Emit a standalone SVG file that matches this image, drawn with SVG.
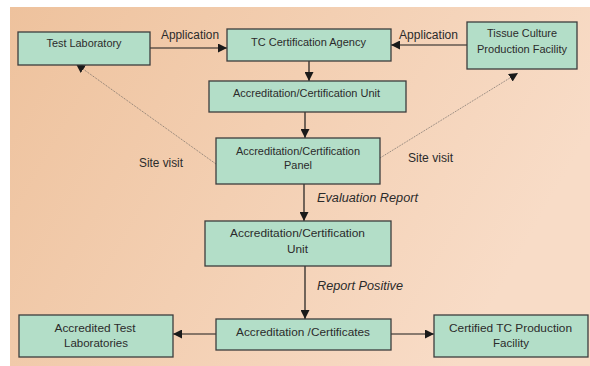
<svg xmlns="http://www.w3.org/2000/svg" width="590" height="366" viewBox="0 0 590 366">
  <defs>
    <linearGradient id="bg" x1="0" y1="0" x2="1" y2="0.35">
      <stop offset="0" stop-color="#eec29d"/>
      <stop offset="1" stop-color="#f8dcc7"/>
    </linearGradient>
    <marker id="ah" viewBox="0 0 10 10" refX="10" refY="5" markerWidth="9" markerHeight="9" markerUnits="userSpaceOnUse" orient="auto">
      <path d="M0,0 L10,5 L0,10 z" fill="#1a1a1a"/>
    </marker>
    <marker id="ahs" viewBox="0 0 10 10" refX="10" refY="5" markerWidth="9" markerHeight="9" markerUnits="userSpaceOnUse" orient="auto">
      <path d="M0,0 L10,5 L0,10 z" fill="#1a1a1a"/>
    </marker>
  </defs>
  <style>
    .box { fill: #b3dec8; stroke: #3d3d3d; stroke-width: 1.3; }
    .t { font-family: "Liberation Sans", Arial, sans-serif; font-size: 11.5px; fill: #2b2b2b; text-anchor: middle; }
    .lbl { font-family: "Liberation Sans", Arial, sans-serif; font-size: 12px; fill: #2b2b2b; text-anchor: middle; }
    .it { font-style: italic; }
    .ln { stroke: #1a1a1a; stroke-width: 1.2; fill: none; marker-end: url(#ah); }
    .dot { stroke: #555; stroke-width: 0.7; stroke-dasharray: 1 1; fill: none; marker-end: url(#ahs); }
  </style>

  <rect x="0" y="0" width="590" height="366" fill="#ffffff"/>
  <rect x="10" y="7" width="580" height="359" fill="url(#bg)"/>

  <g id="connectors">
    <line class="ln" x1="150" y1="48" x2="227" y2="48"/>
    <line class="ln" x1="467" y1="45" x2="391" y2="45"/>
    <line class="ln" x1="309" y1="61" x2="309" y2="81"/>
    <line class="ln" x1="305" y1="112" x2="305" y2="138"/>
    <line class="ln" x1="304" y1="184" x2="304" y2="221"/>
    <line class="ln" x1="305" y1="266" x2="305" y2="319"/>
    <line class="ln" x1="216" y1="334" x2="173" y2="334"/>
    <line class="ln" x1="391" y1="334" x2="434" y2="334"/>
    <line class="dot" x1="216" y1="164" x2="76" y2="64"/>
    <line class="dot" x1="380" y1="158" x2="518" y2="73"/>
    <text class="lbl" x="190" y="39" textLength="58" lengthAdjust="spacingAndGlyphs">Application</text>
    <text class="lbl" x="428.5" y="39" textLength="59" lengthAdjust="spacingAndGlyphs">Application</text>
    <text class="lbl" x="161" y="167" textLength="44" lengthAdjust="spacingAndGlyphs">Site visit</text>
    <text class="lbl" x="430.5" y="162" textLength="45" lengthAdjust="spacingAndGlyphs">Site visit</text>
    <text class="lbl it" x="367.5" y="202" textLength="101" lengthAdjust="spacingAndGlyphs">Evaluation Report</text>
    <text class="lbl it" x="360" y="290" textLength="86" lengthAdjust="spacingAndGlyphs">Report Positive</text>
  </g>

  <g id="test-laboratory">
    <rect class="box" x="18" y="32" width="132" height="33"/>
    <text class="t" x="84" y="47" textLength="75" lengthAdjust="spacingAndGlyphs">Test Laboratory</text>
  </g>
  <g id="tc-certification-agency">
    <rect class="box" x="227" y="29" width="164" height="32"/>
    <text class="t" x="308.5" y="46" textLength="115" lengthAdjust="spacingAndGlyphs">TC Certification Agency</text>
  </g>
  <g id="tissue-culture-facility">
    <rect class="box" x="467" y="22" width="110" height="47"/>
    <text class="t" x="522" y="37" textLength="70" lengthAdjust="spacingAndGlyphs">Tissue Culture</text>
    <text class="t" x="522" y="53" textLength="90" lengthAdjust="spacingAndGlyphs">Production Facility</text>
  </g>
  <g id="certification-unit-1">
    <rect class="box" x="209" y="81" width="197" height="31"/>
    <text class="t" x="306.5" y="97" textLength="147" lengthAdjust="spacingAndGlyphs">Accreditation/Certification Unit</text>
  </g>
  <g id="certification-panel">
    <rect class="box" x="216" y="138" width="164" height="46"/>
    <text class="t" x="298" y="155" textLength="124" lengthAdjust="spacingAndGlyphs">Accreditation/Certification</text>
    <text class="t" x="298" y="169" textLength="28" lengthAdjust="spacingAndGlyphs">Panel</text>
  </g>
  <g id="certification-unit-2">
    <rect class="box" x="205" y="221" width="186" height="45"/>
    <text class="t" x="297.5" y="237" textLength="135" lengthAdjust="spacingAndGlyphs">Accreditation/Certification</text>
    <text class="t" x="297.5" y="253" textLength="21" lengthAdjust="spacingAndGlyphs">Unit</text>
  </g>
  <g id="certificates">
    <rect class="box" x="216" y="319" width="175" height="31"/>
    <text class="t" x="303" y="336" textLength="134" lengthAdjust="spacingAndGlyphs">Accreditation /Certificates</text>
  </g>
  <g id="accredited-test-laboratories">
    <rect class="box" x="19" y="315" width="154" height="42"/>
    <text class="t" x="95" y="332" textLength="81" lengthAdjust="spacingAndGlyphs">Accredited Test</text>
    <text class="t" x="96" y="347" textLength="64" lengthAdjust="spacingAndGlyphs">Laboratories</text>
  </g>
  <g id="certified-tc-production-facility">
    <rect class="box" x="434" y="315" width="154" height="42"/>
    <text class="t" x="510.5" y="332" textLength="123" lengthAdjust="spacingAndGlyphs">Certified TC Production</text>
    <text class="t" x="511" y="347" textLength="36" lengthAdjust="spacingAndGlyphs">Facility</text>
  </g>
</svg>
